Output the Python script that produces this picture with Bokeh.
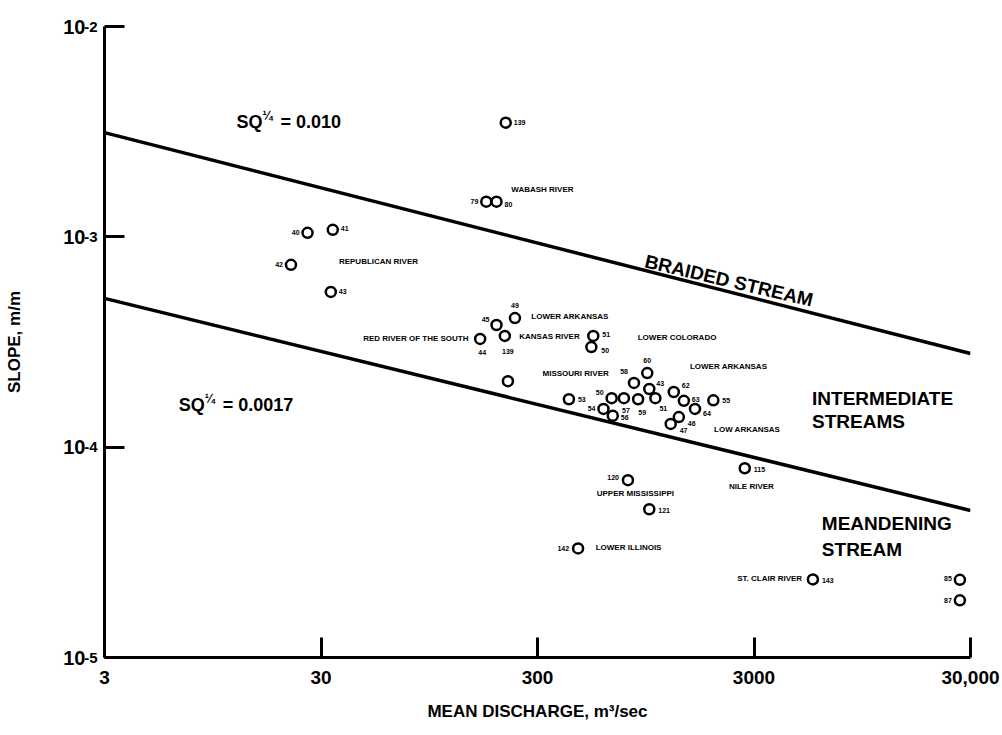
from bokeh.plotting import figure
from bokeh.models import Range1d, FixedTicker, Label, ColumnDataSource, CustomJSTickFormatter, LogAxis
from bokeh.embed import file_html
from bokeh.resources import INLINE
from bokeh.core.properties import value

# ---------------- data ----------------
point_ids = ["139", "79", "80", "40", "41", "42", "43", "49", "45", "44", "139",
             "51", "50", "", "53", "50", "57", "59", "54", "56", "58", "60", "43",
             "51", "62", "63", "55", "64", "46", "47", "120", "121", "115", "142",
             "143", "85", "87"]
discharge = [214, 174, 194, 26.0, 34.0, 21.8, 33.3, 236, 194, 163, 212,
             543, 532, 219, 419, 660, 752, 875, 605, 668, 837, 964, 985,
             1051, 1278, 1423, 1947, 1602, 1349, 1237, 785, 985, 2720, 462,
             5614, 26800, 26800]
slope = [3.49e-3, 1.47e-3, 1.47e-3, 1.045e-3, 1.08e-3, 7.36e-4, 5.47e-4, 4.11e-4, 3.81e-4, 3.27e-4, 3.38e-4,
         3.38e-4, 2.99e-4, 2.06e-4, 1.69e-4, 1.71e-4, 1.71e-4, 1.69e-4, 1.52e-4, 1.41e-4, 2.02e-4, 2.25e-4, 1.89e-4,
         1.71e-4, 1.83e-4, 1.66e-4, 1.67e-4, 1.52e-4, 1.39e-4, 1.29e-4, 6.97e-5, 5.07e-5, 7.94e-5, 3.3e-5,
         2.35e-5, 2.34e-5, 1.87e-5]

braided_q = [3, 30000]
braided_s = [3.13e-3, 2.79e-4]
meander_q = [3, 30000]
meander_s = [5.1e-4, 5.0e-5]

x_ticks = [3, 30, 300, 3000, 30000]
x_tick_labels = ["3", "30", "300", "3000", "30,000"]
y_ticks = [1e-5, 1e-4, 1e-3, 1e-2]
y_tick_base = ["10", "10", "10", "10"]
y_tick_exponents = ["-5", "-4", "-3", "-2"]

river_names = ["WABASH RIVER", "REPUBLICAN RIVER", "LOWER ARKANSAS", "RED RIVER OF THE SOUTH",
               "KANSAS RIVER", "LOWER COLORADO", "MISSOURI RIVER", "LOWER ARKANSAS",
               "LOW ARKANSAS", "UPPER MISSISSIPPI", "NILE RIVER", "LOWER ILLINOIS",
               "ST. CLAIR RIVER"]
river_q = [227, 36.3, 281, 144, 247, 871, 640, 1518, 1961, 563, 2298, 557, 5003]
river_s = [1.68e-3, 7.64e-4, 4.18e-4, 3.28e-4, 3.36e-4, 3.32e-4, 2.24e-4, 2.42e-4,
           1.22e-4, 6.01e-5, 6.50e-5, 3.33e-5, 2.37e-5]

# ---------------- label placement (style) ----------------
label_dx = [8, -8, 8, -8, 8, -8, 8, 0, -7, 2, 3,
            9, 10, 0, 9, -8, 2, 4, -8, 8, -6, 0, 7,
            4, 8, 8, 9, 8, 9, 9, -9, 9, 9, -9,
            9, -8, -8]
label_dy = [0, 0, 3, 0, -1, 0, 0, -13, -5, 14, 16,
            -1, 3, 0, 0, -6, 12, 13, 0, 2, -11, -13, -6,
            10, -6, -1, 0, 5, 6, 7, -3, 1, 1, 0,
            1, -1, 0]
label_align = ["left", "right", "left", "right", "left", "right", "left", "center", "right", "center", "center",
               "left", "left", "left", "left", "right", "center", "center", "right", "left", "right", "center", "left",
               "left", "left", "left", "left", "left", "left", "left", "right", "left", "left", "right",
               "left", "right", "right"]
river_align = ["left", "left", "left", "right", "left", "left", "right", "left",
               "left", "left", "left", "left", "right"]

FONT = "Liberation Sans"

p = figure(width=1000, height=733, x_axis_type="log", y_axis_type="log",
           x_range=Range1d(3, 30000), y_range=Range1d(1e-5, 1e-2),
           output_backend="svg", toolbar_location=None,
           min_border_left=104, min_border_right=30, min_border_top=26, min_border_bottom=76)
p.outline_line_color = None
p.xgrid.visible = False
p.ygrid.visible = False
p.background_fill_color = "white"
p.border_fill_color = "white"

fmt_code = """
let best = 0, d = Infinity;
for (let i = 0; i < tvals.length; i++) {
  const e = Math.abs(Math.log10(tick) - Math.log10(tvals[i]));
  if (e < d) { d = e; best = i; }
}
return tlabels[best];
"""

def style_axis(ax, tks, lbls, size):
    ax.ticker = FixedTicker(ticks=tks, minor_ticks=[])
    ax.formatter = CustomJSTickFormatter(args=dict(tvals=tks, tlabels=lbls), code=fmt_code)
    ax.axis_line_width = 3
    ax.axis_line_color = "black"
    ax.major_tick_line_width = 3
    ax.major_tick_line_color = "black"
    ax.major_tick_in = 20
    ax.major_tick_out = 0
    ax.minor_tick_line_color = None
    ax.major_label_text_font = FONT
    ax.major_label_text_font_style = "bold"
    ax.major_label_text_font_size = size
    ax.major_label_text_color = "black"
    ax.axis_label_text_font = FONT
    ax.axis_label_text_font_style = "bold"
    ax.axis_label_text_font_size = "17px"
    ax.axis_label_text_color = "black"

style_axis(p.xaxis[0], x_ticks, x_tick_labels, "19px")
p.xaxis.axis_label = "MEAN DISCHARGE, m\u00b3/sec"
p.xaxis.major_label_standoff = 13
p.xaxis.axis_label_standoff = 15

# inner y axis: line, ticks and the raised exponents
style_axis(p.yaxis[0], y_ticks, y_tick_exponents, "15px")
p.yaxis.major_label_standoff = 7
p.yaxis.major_label_text_baseline = "bottom"

# outer y axis: the "10" bases and the axis title
outer = LogAxis()
style_axis(outer, y_ticks, y_tick_base, "20px")
outer.axis_line_color = None
outer.major_tick_line_color = None
outer.major_tick_in = 0
outer.major_tick_out = 0
outer.major_label_standoff = -4
outer.axis_label = "SLOPE, m/m"
outer.axis_label_standoff = 36
p.add_layout(outer, "left")

# boundary lines
p.line(braided_q, braided_s, line_color="black", line_width=3.5)
p.line(meander_q, meander_s, line_color="black", line_width=3.5)

src = ColumnDataSource(dict(q=discharge, s=slope, id=point_ids,
                            dx=label_dx, dy=label_dy, align=label_align))
p.scatter(x="q", y="s", source=src, marker="circle", size=10,
          fill_color=None, line_color="black", line_width=2.5)
p.text(x="q", y="s", text="id", source=src, x_offset="dx", y_offset="dy",
       text_align="align", text_baseline="middle", text_font=value(FONT),
       text_font_style="bold", text_font_size="7px", text_color="black")

rsrc = ColumnDataSource(dict(q=river_q, s=river_s, name=river_names, align=river_align))
p.text(x="q", y="s", text="name", source=rsrc, text_align="align",
       text_baseline="middle", text_font=value(FONT), text_font_style="bold",
       text_font_size="8px", text_color="black")

def lab(x, y, text, size, dx=0, dy=0, angle=0.0, align="left"):
    p.add_layout(Label(x=x, y=y, text=text, x_offset=dx, y_offset=dy, angle=angle,
                       text_font=FONT, text_font_style="bold", text_font_size=size,
                       text_align=align, text_baseline="middle", text_color="black"))

# SQ^1/4 annotations
for qx, sy, val in ((12.2, 3.5e-3, "= 0.010"), (6.6, 1.58e-4, "= 0.0017")):
    lab(qx, sy, "SQ", "18px")
    lab(qx, sy, "\u00bc", "12px", dx=26, dy=6)
    lab(qx, sy, val, "18px", dx=44)

lab(2298, 6.19e-4, "BRAIDED STREAM", "19px", angle=-0.232, align="center")
lab(5563, 1.70e-4, "INTERMEDIATE", "19px")
lab(5563, 1.32e-4, "STREAMS", "19px")
lab(6174, 4.34e-5, "MEANDENING", "19px")
lab(6174, 3.26e-5, "STREAM", "19px")

open("out.html", "w").write(file_html(p, INLINE))
